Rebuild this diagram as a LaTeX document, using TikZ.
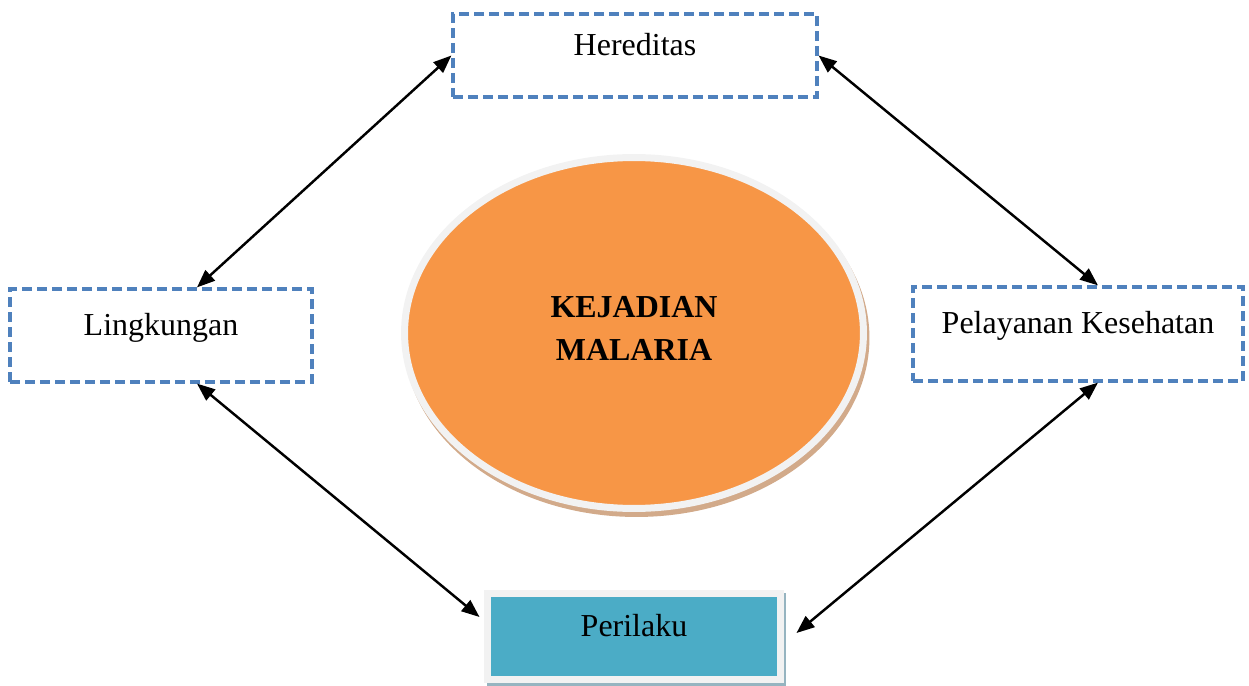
\documentclass[tikz,border=0pt]{standalone}
\usepackage{fontspec}
\setmainfont{Liberation Serif}
\usetikzlibrary{shapes.geometric, arrows.meta}
\definecolor{dashblue}{RGB}{79,129,189}
\definecolor{malaria}{RGB}{247,150,70}
\definecolor{ringgray}{RGB}{242,242,242}
\definecolor{shadowtan}{RGB}{210,170,138}
\definecolor{perilakuteal}{RGB}{75,172,198}
\definecolor{shadowblue}{RGB}{150,180,192}
\tikzstyle{arrow} = [line width=1.4pt, {Triangle[length=0.36cm,width=0.28cm]}-{Triangle[length=0.36cm,width=0.28cm]}, color=black]
\tikzstyle{factor} = [rectangle, draw=dashblue, line width=0.065cm, dash pattern=on 0.2cm off 0.1cm, inner sep=0pt, text centered, font=\fontsize{18.2}{22}\selectfont]

\begin{document}
\begin{tikzpicture}[x=0.02cm, y=-0.02cm]
    \useasboundingbox (0,0) rectangle (1249,686);

    % nodes
    \node (kejadian) [ellipse, fill=malaria, draw=ringgray, line width=0.14cm, inner sep=0pt, minimum width=9.18cm, minimum height=7.02cm,
        preaction={fill=shadowtan, draw=shadowtan, line width=0.14cm, transform canvas={shift={(0.05cm,-0.1cm)}}}] at (634,333) {};
    \node (kejadiantext) [align=center, inner sep=0pt, font=\fontsize{18.2}{24.4}\selectfont\bfseries] at (634,328.5) {KEJADIAN\\MALARIA};

    % top
    \node (hereditas) [factor, minimum width=7.28cm, text height=0.83cm, text depth=0.83cm] at (635,55.5) {Hereditas};

    % left and right
    \node (lingkungan) [factor, minimum width=6.04cm, text height=0.93cm, text depth=0.93cm] at (161,335.5) {Lingkungan};
    \node (pelayanan) [factor, minimum width=6.6cm, text height=0.94cm, text depth=0.94cm] at (1078,334) {Pelayanan Kesehatan};

    % bottom
    \node (perilaku) [rectangle, fill=perilakuteal, draw=ringgray, line width=0.14cm, inner sep=0pt, minimum width=5.86cm, text height=0.86cm, text depth=0.86cm, font=\fontsize{18.2}{22}\selectfont,
        preaction={fill=shadowblue, draw=shadowblue, line width=0.14cm, transform canvas={shift={(0.05cm,-0.06cm)}}}] at (634,636.5) {Perilaku};

    % arrows
    \draw [arrow] (hereditas.west) -- ([xshift=0.72cm]lingkungan.north);
    \draw [arrow] (hereditas.east) -- ([xshift=0.4cm]pelayanan.north);
    \draw [arrow] ([xshift=0.72cm]lingkungan.south) -- ([xshift=-0.09cm,yshift=0.39cm]perilaku.west);
    \draw [arrow] ([xshift=0.4cm]pelayanan.south) -- ([xshift=0.25cm,yshift=0.07cm]perilaku.east);
\end{tikzpicture}
\end{document}
